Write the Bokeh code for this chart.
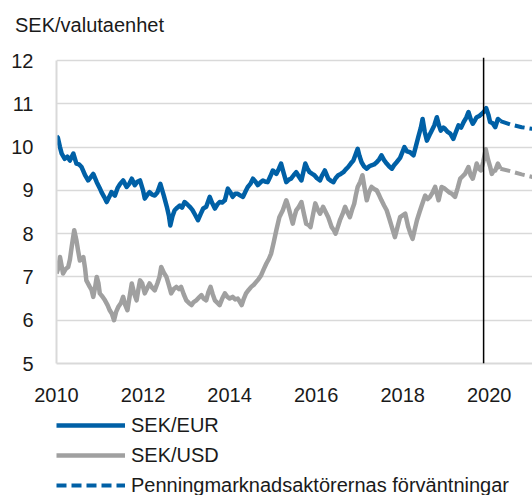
from bokeh.plotting import figure
from bokeh.layouts import column
from bokeh.models import Range1d, FixedTicker, Span, Legend, LegendItem, Div
from bokeh.embed import file_html
from bokeh.resources import INLINE

# ---- data (decimal years, SEK per currency unit) ----
eur_t = [2010.00, 2010.03, 2010.08, 2010.12, 2010.19, 2010.25, 2010.31, 2010.39, 2010.46, 2010.52,
         2010.58, 2010.66, 2010.73, 2010.79, 2010.85, 2010.93, 2011.00, 2011.04, 2011.10, 2011.16,
         2011.22, 2011.27, 2011.35, 2011.41, 2011.47, 2011.54, 2011.62, 2011.68, 2011.74, 2011.81,
         2011.87, 2011.93, 2012.00, 2012.04, 2012.10, 2012.15, 2012.21, 2012.27, 2012.33, 2012.40,
         2012.48, 2012.55, 2012.60, 2012.63, 2012.68, 2012.73, 2012.79, 2012.85, 2012.90, 2012.96,
         2013.02, 2013.08, 2013.14, 2013.19, 2013.27, 2013.33, 2013.39, 2013.46, 2013.54, 2013.60,
         2013.66, 2013.72, 2013.77, 2013.83, 2013.89, 2013.96, 2014.02, 2014.07, 2014.13, 2014.19,
         2014.25, 2014.31, 2014.37, 2014.42, 2014.48, 2014.54, 2014.60, 2014.65, 2014.71, 2014.77,
         2014.83, 2014.88, 2014.94, 2015.00, 2015.08, 2015.14, 2015.19, 2015.25, 2015.31, 2015.37,
         2015.42, 2015.48, 2015.54, 2015.60, 2015.66, 2015.71, 2015.75, 2015.80, 2015.85, 2015.91,
         2015.96, 2016.02, 2016.09, 2016.14, 2016.20, 2016.28, 2016.34, 2016.40, 2016.45, 2016.51,
         2016.57, 2016.63, 2016.68, 2016.74, 2016.80, 2016.86, 2016.92, 2016.96, 2017.00, 2017.05,
         2017.11, 2017.17, 2017.22, 2017.28, 2017.34, 2017.40, 2017.46, 2017.51, 2017.57, 2017.63,
         2017.69, 2017.75, 2017.80, 2017.86, 2017.94, 2018.04, 2018.10, 2018.17, 2018.25, 2018.30,
         2018.36, 2018.42, 2018.46, 2018.51, 2018.56, 2018.62, 2018.67, 2018.73, 2018.79, 2018.84,
         2018.88, 2018.94, 2018.98, 2019.04, 2019.10, 2019.17, 2019.23, 2019.29, 2019.35, 2019.41,
         2019.47, 2019.52, 2019.57, 2019.62, 2019.67, 2019.71, 2019.77, 2019.83, 2019.88, 2019.93,
         2019.98, 2020.02, 2020.08, 2020.14, 2020.20, 2020.26]
eur_v = [10.25, 10.22, 10.00, 9.85, 9.73, 9.78, 9.69, 9.85, 9.62, 9.60,
         9.54, 9.35, 9.23, 9.30, 9.38, 9.19, 9.05, 8.96, 8.85, 8.73,
         8.85, 8.96, 8.88, 9.05, 9.15, 9.23, 9.08, 9.15, 9.27, 9.12,
         9.20, 9.23, 9.00, 8.81, 8.90, 8.96, 8.90, 8.88, 8.95, 9.15,
         8.88, 8.62, 8.40, 8.19, 8.40, 8.54, 8.60, 8.65, 8.60, 8.73,
         8.68, 8.62, 8.55, 8.46, 8.31, 8.45, 8.58, 8.62, 8.85, 8.70,
         8.58, 8.68, 8.73, 8.72, 8.77, 9.04, 8.95, 8.85, 8.92, 8.92,
         8.88, 8.85, 8.98, 9.08, 9.15, 9.27, 9.20, 9.12, 9.18, 9.23,
         9.20, 9.19, 9.32, 9.46, 9.38, 9.50, 9.62, 9.40, 9.19, 9.25,
         9.27, 9.35, 9.42, 9.32, 9.23, 9.45, 9.62, 9.50, 9.42, 9.38,
         9.35, 9.28, 9.23, 9.35, 9.46, 9.27, 9.22, 9.19, 9.28, 9.35,
         9.38, 9.42, 9.48, 9.54, 9.62, 9.69, 9.85, 9.96, 9.80, 9.65,
         9.55, 9.50, 9.55, 9.58, 9.60, 9.65, 9.72, 9.81, 9.70, 9.62,
         9.55, 9.50, 9.58, 9.65, 9.75, 10.00, 9.90, 9.88, 9.81, 10.00,
         10.23, 10.45, 10.65, 10.35, 10.15, 10.28, 10.38, 10.50, 10.69, 10.50,
         10.38, 10.45, 10.42, 10.35, 10.31, 10.19, 10.35, 10.50, 10.45, 10.58,
         10.68, 10.81, 10.65, 10.54, 10.62, 10.69, 10.72, 10.77, 10.82, 10.90,
         10.75, 10.58, 10.55, 10.46, 10.65, 10.60]

usd_t = [2010.00, 2010.04, 2010.08, 2010.12, 2010.15, 2010.21, 2010.27, 2010.31, 2010.35, 2010.41,
         2010.46, 2010.50, 2010.54, 2010.62, 2010.66, 2010.69, 2010.77, 2010.81, 2010.85, 2010.89,
         2010.93, 2010.97, 2011.00, 2011.06, 2011.12, 2011.18, 2011.23, 2011.28, 2011.33, 2011.38,
         2011.43, 2011.49, 2011.54, 2011.59, 2011.64, 2011.69, 2011.74, 2011.80, 2011.85, 2011.89,
         2011.93, 2011.98, 2012.04, 2012.10, 2012.15, 2012.21, 2012.27, 2012.33, 2012.38, 2012.42,
         2012.48, 2012.54, 2012.60, 2012.65, 2012.71, 2012.77, 2012.83, 2012.88, 2012.94, 2013.00,
         2013.06, 2013.12, 2013.17, 2013.23, 2013.29, 2013.35, 2013.40, 2013.46, 2013.51, 2013.56,
         2013.61, 2013.66, 2013.72, 2013.77, 2013.83, 2013.89, 2013.94, 2014.00, 2014.07, 2014.13,
         2014.19, 2014.24, 2014.28, 2014.33, 2014.38, 2014.44, 2014.50, 2014.56, 2014.61, 2014.67,
         2014.73, 2014.79, 2014.85, 2014.91, 2014.96, 2015.02, 2015.08, 2015.15, 2015.23, 2015.31,
         2015.35, 2015.38, 2015.42, 2015.46, 2015.50, 2015.54, 2015.60, 2015.66, 2015.72, 2015.77,
         2015.83, 2015.87, 2015.93, 2015.98, 2016.04, 2016.09, 2016.16, 2016.22, 2016.28, 2016.36,
         2016.41, 2016.45, 2016.50, 2016.55, 2016.61, 2016.67, 2016.72, 2016.78, 2016.83, 2016.88,
         2016.92, 2016.96, 2017.02, 2017.07, 2017.12, 2017.17, 2017.22, 2017.28, 2017.34, 2017.40,
         2017.46, 2017.51, 2017.57, 2017.63, 2017.69, 2017.75, 2017.82, 2017.88, 2017.94, 2018.00,
         2018.06, 2018.13, 2018.18, 2018.23, 2018.28, 2018.33, 2018.39, 2018.44, 2018.52, 2018.58,
         2018.63, 2018.69, 2018.75, 2018.83, 2018.90, 2018.96, 2019.02, 2019.08, 2019.14, 2019.21,
         2019.27, 2019.33, 2019.38, 2019.44, 2019.52, 2019.57, 2019.62, 2019.67, 2019.71, 2019.76,
         2019.81, 2019.86, 2019.92, 2019.97, 2020.02, 2020.06, 2020.10, 2020.14, 2020.20, 2020.26]
usd_v = [7.08, 7.20, 7.46, 7.25, 7.08, 7.18, 7.23, 7.40, 7.69, 8.08,
         7.85, 7.60, 7.38, 7.46, 7.20, 6.92, 6.77, 6.70, 6.54, 6.75,
         7.00, 6.85, 6.62, 6.55, 6.46, 6.35, 6.23, 6.15, 6.00, 6.20,
         6.31, 6.40, 6.54, 6.35, 6.23, 6.55, 6.85, 6.60, 6.46, 6.70,
         6.92, 6.85, 6.62, 6.75, 6.85, 6.75, 6.69, 6.85, 7.00, 7.23,
         7.10, 7.00, 6.80, 6.62, 6.72, 6.77, 6.72, 6.77, 6.60, 6.46,
         6.40, 6.35, 6.42, 6.46, 6.52, 6.58, 6.50, 6.46, 6.65, 6.77,
         6.60, 6.46, 6.40, 6.35, 6.50, 6.62, 6.55, 6.50, 6.54, 6.48,
         6.50, 6.42, 6.35, 6.50, 6.62, 6.70, 6.77, 6.82, 6.88, 6.95,
         7.04, 7.18, 7.31, 7.42, 7.54, 7.80, 8.08, 8.38, 8.54, 8.77,
         8.65, 8.54, 8.38, 8.23, 8.40, 8.54, 8.62, 8.73, 8.45, 8.23,
         8.20, 8.15, 8.45, 8.70, 8.55, 8.46, 8.62, 8.50, 8.38, 8.15,
         8.08, 8.00, 8.15, 8.31, 8.45, 8.62, 8.50, 8.38, 8.55, 8.69,
         8.90, 9.08, 9.20, 9.35, 9.05, 8.77, 8.95, 9.08, 9.03, 9.00,
         8.88, 8.77, 8.65, 8.54, 8.35, 8.15, 7.92, 8.15, 8.38, 8.42,
         8.46, 8.15, 8.00, 7.88, 8.10, 8.31, 8.50, 8.65, 8.88, 8.80,
         8.85, 8.95, 9.08, 8.77, 9.08, 9.05, 9.00, 8.95, 8.92, 8.85,
         9.05, 9.27, 9.32, 9.38, 9.54, 9.35, 9.27, 9.45, 9.62, 9.50,
         9.46, 9.65, 9.95, 9.72, 9.55, 9.38, 9.45, 9.46, 9.62, 9.50]

fc_t = [2020.26, 2020.50, 2020.75, 2021.00]
fc_eur = [10.60, 10.52, 10.46, 10.42]
fc_usd = [9.50, 9.44, 9.37, 9.31]

x_ticks = [2010, 2012, 2014, 2016, 2018, 2020]
y_ticks = [5, 6, 7, 8, 9, 10, 11, 12]
marker_year = 2019.87

title_text = "SEK/valutaenhet"
labels = ["SEK/EUR", "SEK/USD", "Penningmarknadsaktörernas förväntningar"]

BLUE = "#0060A6"
GREY = "#A0A0A0"
GRID = "#D9D9D9"
FONT = "Liberation Sans"
TXT = "#1a1a1a"
W = 532
TOP_H = 45

# ---- title strip ----
top = Div(text=('<div style="padding:15px 0 0 15px; font-family:\'Liberation Sans\'; '
                'font-size:20px; line-height:20px; color:#1a1a1a; white-space:nowrap">'
                + title_text + '</div>'),
          width=W, height=TOP_H, margin=0)

# ---- main chart ----
p = figure(width=W, height=410 - TOP_H, output_backend="svg", toolbar_location=None,
           x_range=Range1d(2010, 2021), y_range=Range1d(5, 12.07),
           min_border_left=56, min_border_right=0, min_border_top=57 - TOP_H,
           min_border_bottom=47, margin=0)
p.outline_line_color = None

p.line(eur_t, eur_v, line_color=BLUE, line_width=4.5, line_join="round")
p.line(usd_t, usd_v, line_color=GREY, line_width=4.5, line_join="round")
p.line(fc_t, fc_eur, line_color=BLUE, line_width=4, line_dash="10 5")
p.line(fc_t, fc_usd, line_color=GREY, line_width=4, line_dash="10 5")

p.add_layout(Span(location=marker_year, dimension="height", line_color="black", line_width=1.5))

for ax in (p.xaxis[0], p.yaxis[0]):
    ax.axis_line_color = GRID
    ax.axis_line_width = 2
    ax.major_tick_line_color = None
    ax.minor_tick_line_color = None
    ax.major_label_text_font = FONT
    ax.major_label_text_font_size = "20px"
    ax.major_label_text_color = TXT

p.xaxis[0].ticker = FixedTicker(ticks=x_ticks)
p.xaxis[0].major_label_standoff = 18
p.yaxis[0].ticker = FixedTicker(ticks=y_ticks)
p.yaxis[0].major_label_standoff = 17
p.yaxis[0].bounds = (5, 12)

p.xgrid.grid_line_color = None
p.ygrid.grid_line_color = GRID
p.ygrid.grid_line_width = 1.5
p.ygrid.ticker = FixedTicker(ticks=y_ticks)

# ---- legend strip below the chart (series drawn again but outside its visible range) ----
lg = figure(width=W, height=90, output_backend="svg", toolbar_location=None,
            x_range=Range1d(0, 1), y_range=Range1d(0, 1),
            x_axis_location=None, y_axis_location=None,
            min_border_left=54, min_border_right=0, min_border_top=0, min_border_bottom=0,
            margin=0)
lg.outline_line_color = None
lg.xgrid.visible = False
lg.ygrid.visible = False
l_eur = lg.line(eur_t, eur_v, line_color=BLUE, line_width=4.5)
l_usd = lg.line(usd_t, usd_v, line_color=GREY, line_width=4.5)
l_fc = lg.line(fc_t, fc_eur, line_color=BLUE, line_width=4, line_dash="10 5")

legend = Legend(items=[
    LegendItem(label=labels[0], renderers=[l_eur]),
    LegendItem(label=labels[1], renderers=[l_usd]),
    LegendItem(label=labels[2], renderers=[l_fc]),
], location="top_left", orientation="vertical", margin=0, padding=4,
    spacing=0, glyph_width=69, glyph_height=30, label_height=30,
    label_standoff=6, label_text_font=FONT, label_text_font_size="20px",
    label_text_color=TXT, border_line_color=None, background_fill_alpha=0)
lg.add_layout(legend, "center")

open("out.html", "w").write(file_html(column(top, p, lg, spacing=0, margin=0), INLINE))
